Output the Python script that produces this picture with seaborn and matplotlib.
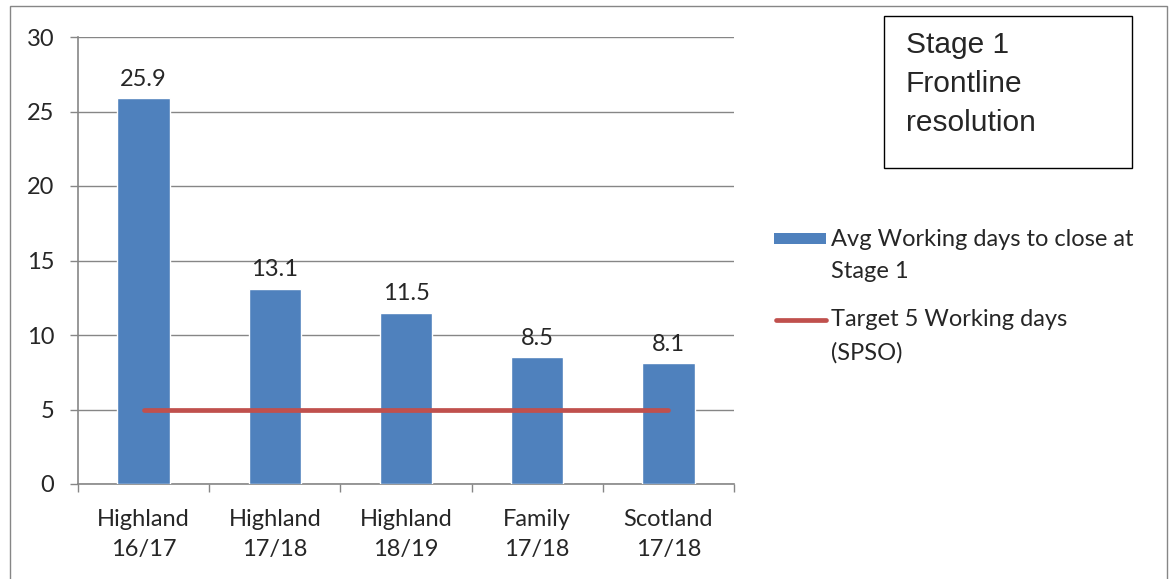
import numpy as np
import pandas as pd
import seaborn as sns
import matplotlib.pyplot as plt
from matplotlib.patches import Rectangle
from matplotlib.lines import Line2D

# Datos
categories = ["Highland\n16/17", "Highland\n17/18", "Highland\n18/19", "Family\n17/18", "Scotland\n17/18"]
avg_days = [25.9, 13.1, 11.5, 8.5, 8.1]
target_days = [5, 5, 5, 5, 5]
bar_label = ["Avg Working days to close at", "Stage 1"]
line_label = ["Target 5 Working days", "(SPSO)"]
box_lines = ["Stage 1", "Frontline", "resolution"]

sns.set_style("white")
plt.rcParams['font.family'] = ['Lato', 'DejaVu Sans']

W, H = 1172, 579
fig = plt.figure(figsize=(W / 100, H / 100), dpi=100)
ax = fig.add_axes([78 / W, 1 - 484 / H, (734 - 78) / W, (484 - 37) / H])

grey = "#868686"
blue = "#4F81BD"
red = "#C0504D"
fs = 17

df = pd.DataFrame({"cat": categories, "days": avg_days})
sns.barplot(data=df, x="cat", y="days", color=blue, width=0.4, saturation=1, ax=ax, zorder=3)
sns.lineplot(x=np.arange(len(categories)), y=target_days, color=red, linewidth=3.4, ax=ax, zorder=4)

# Etiquetas de valores
for i, v in enumerate(avg_days):
    ax.annotate(f"{v}", (i, v), xytext=(0, 6), textcoords="offset points",
                ha="center", va="bottom", fontsize=fs)

ax.set_xlim(-0.5, len(categories) - 0.5)
ax.set_ylim(0, 30)
ax.set_yticks(range(0, 31, 5))
ax.yaxis.grid(True, color=grey, linewidth=1, zorder=0)
ax.set_xlabel("")
ax.set_ylabel("")

for s in ["top", "right"]:
    ax.spines[s].set_visible(False)
for s in ["left", "bottom"]:
    ax.spines[s].set_color(grey)
    ax.spines[s].set_linewidth(1.2)

ax.tick_params(axis="y", length=6, width=1, color=grey, labelsize=fs, pad=11, left=True)
ax.tick_params(axis="x", which="major", length=0, labelsize=fs, pad=18)
for lbl in ax.get_xticklabels():
    lbl.set_linespacing(1.55)
ax.set_xticks(np.arange(-0.5, len(categories)), minor=True)
ax.tick_params(axis="x", which="minor", length=6, width=1, color=grey, bottom=True)

# Leyenda (manual, la marca alineada con la primera línea)
fig.patches.append(Rectangle((774 / W, 1 - 244 / H), 52 / W, 11 / H,
                             transform=fig.transFigure, facecolor=blue, edgecolor="none"))
fig.lines.append(Line2D([776 / W, 826 / W], [1 - 320 / H, 1 - 320 / H], transform=fig.transFigure,
                        color=red, linewidth=3.4, solid_capstyle="round"))
for txt, y in zip(bar_label + line_label, [240, 271, 320, 353]):
    fig.text(831 / W, 1 - y / H, txt, ha="left", va="center", fontsize=fs)

# Caja de texto
fig.patches.append(Rectangle((884 / W, 1 - 168 / H), (1132 - 884) / W, (168 - 16) / H,
                             transform=fig.transFigure, fill=False, edgecolor="black", linewidth=1))
for txt, y in zip(box_lines, [53, 92, 131]):
    fig.text(906 / W, 1 - y / H, txt, ha="left", va="baseline", fontsize=21.5,
             family="Liberation Sans")

# Borde exterior
fig.patches.append(Rectangle((10 / W, -0.01), (1167 - 10) / W, 1 - 6 / H + 0.01,
                             transform=fig.transFigure, fill=False, edgecolor=grey, linewidth=1))

fig.savefig("out.png", dpi=100)
